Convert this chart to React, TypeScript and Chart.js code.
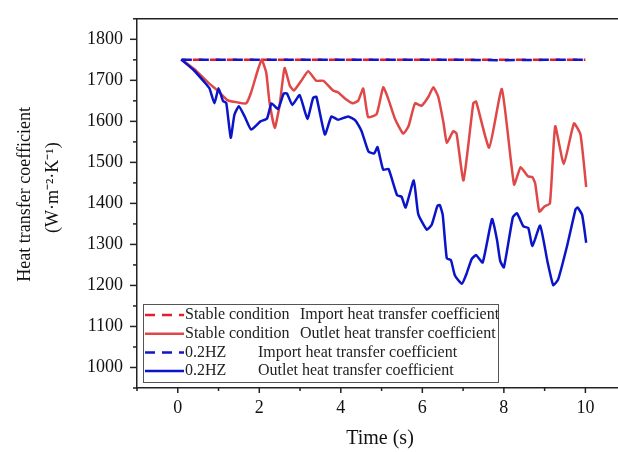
import React, { useEffect, useRef } from 'react';
import { Chart, registerables } from 'chart.js';

Chart.register(...registerables);

// ---- data ----
const importTimes = [0.1, 1, 2, 3, 4, 5, 6, 7, 8, 9, 10];
const stableImportValues = [1750, 1750, 1750, 1750, 1750, 1750, 1750, 1750, 1750, 1750, 1750];
const hzImportValues = [1750, 1750, 1750, 1750, 1750, 1750, 1750, 1750, 1749, 1750, 1750];

const stableOutletTimes = [
  0.1, 0.41, 0.74, 0.98, 1.23, 1.48, 1.68, 1.8, 1.97, 2.06, 2.17, 2.25, 2.38, 2.5, 2.62, 2.75, 2.85,
  3.03, 3.2, 3.4, 3.57, 3.81, 3.93, 4.1, 4.3, 4.43, 4.55, 4.67, 4.88, 5.04, 5.16, 5.33, 5.53, 5.66,
  5.82, 5.98, 6.15, 6.27, 6.39, 6.52, 6.6, 6.76, 6.84, 7.01, 7.25, 7.32, 7.64, 7.95, 8.25, 8.41,
  8.59, 8.7, 8.77, 8.87, 8.99, 9.13, 9.26, 9.47, 9.72, 9.88, 10.02,
];
const stableOutletValues = [
  1751, 1727, 1695, 1675, 1651, 1646, 1644, 1671, 1727, 1750, 1719, 1647, 1584, 1640, 1730, 1687, 1675,
  1699, 1722, 1699, 1699, 1675, 1671, 1656, 1644, 1651, 1680, 1610, 1618, 1683, 1656, 1606, 1570, 1588,
  1644, 1638, 1660, 1683, 1660, 1596, 1548, 1576, 1570, 1456, 1644, 1648, 1536, 1679, 1446, 1488,
  1466, 1464, 1448, 1380, 1392, 1400, 1588, 1496, 1595, 1568, 1440,
];

const hzOutletTimes = [
  0.08, 0.4, 0.66, 0.78, 0.9, 1.0, 1.11, 1.19, 1.3, 1.39, 1.5, 1.64, 1.8, 2.03, 2.19, 2.3, 2.46, 2.6,
  2.68, 2.81, 2.99, 3.18, 3.32, 3.4, 3.61, 3.77, 3.93, 4.18, 4.36, 4.51, 4.68, 4.82, 4.9, 5.04, 5.17,
  5.38, 5.49, 5.59, 5.79, 5.9, 6.11, 6.23, 6.37, 6.43, 6.5, 6.6, 6.7, 6.8, 6.97, 7.09, 7.21, 7.32,
  7.48, 7.71, 7.83, 7.91, 8.0, 8.22, 8.32, 8.48, 8.6, 8.7, 8.89, 9.07, 9.21, 9.33, 9.55, 9.76, 9.81,
  9.92, 10.02,
];
const hzOutletValues = [
  1751, 1724, 1695, 1680, 1644, 1681, 1650, 1645, 1560, 1616, 1637, 1612, 1580, 1600, 1607, 1644, 1630, 1668,
  1668, 1640, 1664, 1606, 1657, 1660, 1568, 1612, 1604, 1612, 1602, 1576, 1526, 1522, 1537, 1482, 1484,
  1420, 1416, 1390, 1456, 1374, 1336, 1348, 1394, 1396, 1372, 1266, 1262, 1224, 1204, 1230, 1264, 1274,
  1256, 1362, 1312, 1260, 1244, 1366, 1376, 1344, 1340, 1296, 1346, 1258, 1201, 1214, 1296, 1386, 1390,
  1372, 1304,
];

const legendNames = ['Stable condition', 'Stable condition', '0.2HZ', '0.2HZ'];
const legendDescs = [
  'Import heat transfer coefficient',
  'Outlet heat transfer coefficient',
  'Import heat transfer coefficient',
  'Outlet heat transfer coefficient',
];
const xTickLabels = [0, 2, 4, 6, 8, 10];
const yTickLabels = [1000, 1100, 1200, 1300, 1400, 1500, 1600, 1700, 1800];
const xTitle = ' Time (s)';
const yTitle = ['    Heat transfer coefficient', '       (W·m⁻²·K⁻¹)'];

const FONT = "'Liberation Serif', 'Times New Roman', serif";

const toPts = (xs: number[], ys: number[]) => xs.map((x, i) => ({ x, y: ys[i] }));

const framePlugin = {
  id: 'frame',
  afterDraw(chart: any) {
    const ctx = chart.ctx;
    const { left, top, right, bottom } = chart.chartArea;
    const xs = chart.scales.x;
    const ys = chart.scales.y;
    ctx.save();
    ctx.strokeStyle = '#222';
    ctx.lineWidth = 1.5;
    ctx.beginPath();
    ctx.moveTo(left, top);
    ctx.lineTo(right + 1, top);
    ctx.stroke();
    xs.ticks.forEach((t: any) => {
      const px = xs.getPixelForValue(t.value);
      const major = xTickLabels.includes(t.value);
      ctx.beginPath();
      ctx.moveTo(px, bottom);
      ctx.lineTo(px, bottom + (major ? 5 : 3));
      ctx.stroke();
    });
    ys.ticks.forEach((t: any) => {
      const py = ys.getPixelForValue(t.value);
      const major = yTickLabels.includes(t.value);
      ctx.beginPath();
      ctx.moveTo(left, py);
      ctx.lineTo(left - (major ? 7 : 4), py);
      ctx.stroke();
    });
    ctx.restore();
  },
};

const legendPlugin = {
  id: 'boxLegend',
  afterDraw(chart: any, _args: any, opts: any) {
    const ctx = chart.ctx;
    ctx.save();
    ctx.fillStyle = '#fff';
    ctx.fillRect(opts.x, opts.y, opts.w, opts.h);
    ctx.strokeStyle = '#555';
    ctx.lineWidth = 1;
    ctx.strokeRect(opts.x + 0.5, opts.y + 0.5, opts.w, opts.h);
    const order = [0, 1, 2, 3];
    order.forEach((i) => {
      const ds = chart.data.datasets[i];
      const y = opts.firstY + i * opts.rowH;
      ctx.strokeStyle = ds.borderColor;
      ctx.lineWidth = ds.borderWidth;
      ctx.setLineDash(ds.borderDash || []);
      ctx.lineDashOffset = 0;
      ctx.beginPath();
      ctx.moveTo(opts.x + 2, y);
      ctx.lineTo(opts.x + 2 + opts.sampleLen, y);
      ctx.stroke();
      ctx.setLineDash([]);
      ctx.fillStyle = '#222';
      ctx.font = `16px ${FONT}`;
      ctx.textBaseline = 'middle';
      ctx.textAlign = 'left';
      ctx.fillText(legendNames[i], opts.textX, y);
      ctx.fillText(legendDescs[i], opts.col2X[i], y);
    });
    ctx.restore();
  },
};

export default function App() {
  const ref = useRef<HTMLCanvasElement | null>(null);

  useEffect(() => {
    if (!ref.current) return;
    Chart.defaults.font.family = FONT;
    const chart = new Chart(ref.current, {
      type: 'line',
      data: {
        datasets: [
          {
            label: legendNames[0] + ' ' + legendDescs[0],
            data: toPts(importTimes, stableImportValues),
            borderColor: '#e0202a',
            borderWidth: 2.5,
            borderDash: [10, 7],
            borderDashOffset: 6,
            pointRadius: 0,
            tension: 0,
            order: 3,
          },
          {
            label: legendNames[1] + ' ' + legendDescs[1],
            data: toPts(stableOutletTimes, stableOutletValues),
            borderColor: '#e04848',
            borderWidth: 2.5,
            pointRadius: 0,
            tension: 0.15,
            order: 2,
          },
          {
            label: legendNames[2] + ' ' + legendDescs[2],
            data: toPts(importTimes, hzImportValues),
            borderColor: '#1414c8',
            borderWidth: 2.5,
            borderDash: [10, 7],
            pointRadius: 0,
            tension: 0,
            order: 0,
          },
          {
            label: legendNames[3] + ' ' + legendDescs[3],
            data: toPts(hzOutletTimes, hzOutletValues),
            borderColor: '#0a14c8',
            borderWidth: 2.5,
            pointRadius: 0,
            tension: 0.15,
            order: 1,
          },
        ],
      },
      options: {
        responsive: false,
        animation: false,
        events: [],
        layout: { padding: { top: 13, right: 0, left: 0, bottom: 0 } },
        plugins: {
          legend: { display: false },
          tooltip: { enabled: false },
          boxLegend: {
            x: 143,
            y: 304,
            w: 355,
            h: 78,
            firstY: 315,
            rowH: 18.7,
            sampleLen: 39,
            textX: 185,
            col2X: [300, 300, 258, 258],
          },
        } as any,
        scales: {
          x: {
            type: 'linear',
            min: -1,
            max: 10.8,
            afterFit: (s: any) => {
              s.height = 64;
            },
            border: { display: true, color: '#222', width: 1.5 },
            grid: { display: true, drawOnChartArea: false, drawTicks: true, tickLength: 5, tickColor: 'rgba(0,0,0,0)' },
            ticks: {
              stepSize: 1,
              includeBounds: false,
              autoSkip: false,
              maxRotation: 0,
              padding: 4,
              color: '#111',
              font: { size: 18, family: FONT },
              callback: (v: any) => (xTickLabels.includes(Number(v)) ? String(v) : ''),
            },
            title: {
              display: true,
              text: xTitle,
              color: '#111',
              font: { size: 20, family: FONT, lineHeight: 1.2 },
              padding: { top: 0, bottom: 1 },
            },
          },
          y: {
            type: 'linear',
            min: 950,
            max: 1850,
            afterFit: (s: any) => {
              s.width = 137;
            },
            border: { display: true, color: '#222', width: 1.5 },
            grid: { display: true, drawOnChartArea: false, drawTicks: true, tickLength: 6, tickColor: 'rgba(0,0,0,0)' },
            ticks: {
              stepSize: 50,
              autoSkip: false,
              padding: 8,
              color: '#111',
              font: { size: 18, family: FONT },
              callback: (v: any) => (yTickLabels.includes(Number(v)) ? String(v) : ''),
            },
            title: {
              display: true,
              text: yTitle,
              color: '#111',
              font: { size: 18, family: FONT, lineHeight: 1.556 },
              padding: { top: 11, bottom: 0 },
            },
          },
        },
      },
      plugins: [framePlugin, legendPlugin],
    } as any);
    return () => chart.destroy();
  }, []);

  return (
    <div style={{ position: 'absolute', left: 0, top: 0, width: 618, height: 452, background: '#fff' }}>
      <canvas ref={ref} width={618} height={452} style={{ display: 'block' }} />
    </div>
  );
}
